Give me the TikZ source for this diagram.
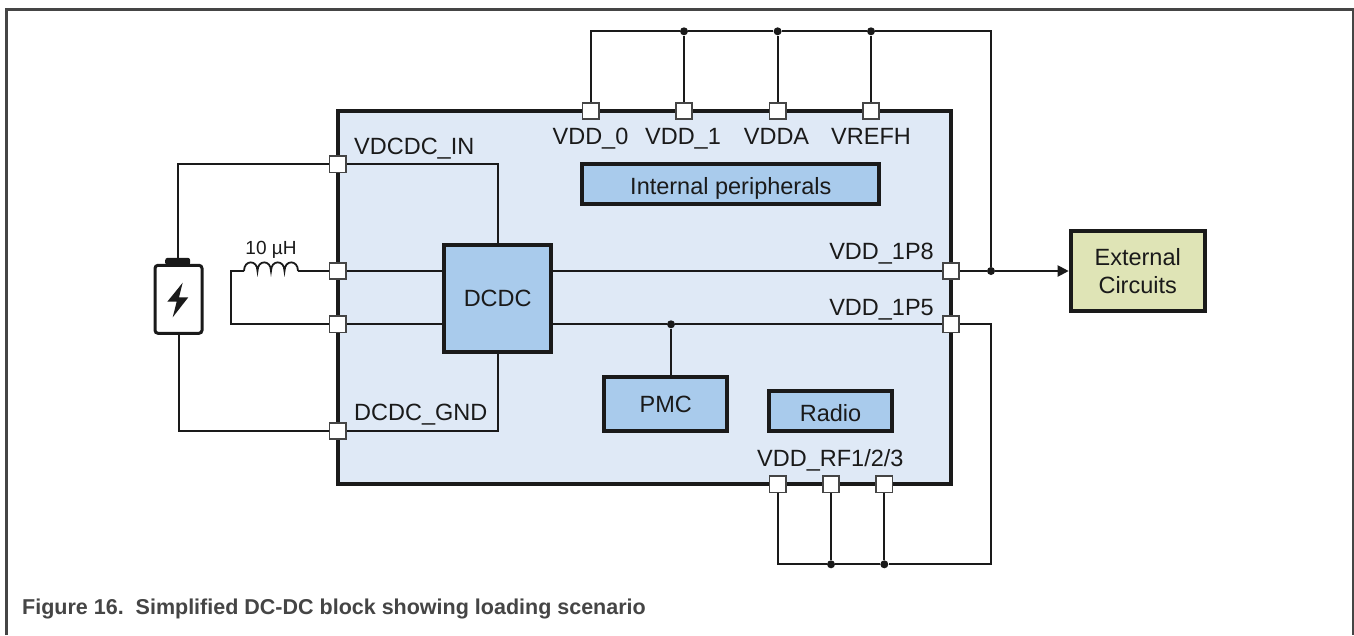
\documentclass[tikz,border=0pt]{standalone}
\usepackage{fontspec}
\setmainfont{Liberation Sans}
\usetikzlibrary{arrows.meta}
\definecolor{chipfill}{HTML}{DFE9F6}
\definecolor{blockfill}{HTML}{A9CBEC}
\definecolor{extfill}{HTML}{DFE4B6}
\definecolor{ink}{HTML}{1A1A1A}
\definecolor{framecol}{HTML}{454545}
\tikzset{
  chipbox/.style={draw=ink,fill=chipfill,line width=3.5pt,inner sep=0pt},
  block/.style={draw=ink,fill=blockfill,line width=4pt,inner sep=0pt,text=ink,font=\fontsize{23.5}{28}\selectfont,align=center},
  extblock/.style={block,fill=extfill},
  pinbox/.style={draw=framecol,fill=white,line width=1.6pt,minimum size=16.5pt,inner sep=0pt},
  wire/.style={draw=ink,line width=2pt},
  junc/.style={circle,fill=ink,minimum size=8pt,inner sep=0pt},
  lab/.style={text=ink,font=\fontsize{23.5}{28}\selectfont,inner sep=0pt},
}
\begin{document}
\begin{tikzpicture}[x=1pt,y=-1pt]
\useasboundingbox (0,0) rectangle (1354,635);
\fill[white] (0,0) rectangle (1354,635);
% frame
\draw[framecol,line width=3pt] (6.5,635) -- (6.5,9.5) -- (1353,9.5) -- (1353,635);
% chip and blocks
\node[chipbox,minimum width=613pt,minimum height=373pt] (chip) at (644.5,297.5) {};
\node[block,minimum width=107pt,minimum height=107pt] (dcdc) at (497.7,298) {DCDC};
\node[block,minimum width=297pt,minimum height=40pt,text height=20pt,text depth=0.4pt] (periph) at (730.8,184.2) {Internal peripherals};
\node[block,minimum width=123pt,minimum height=54pt] (pmc) at (665.7,404.3) {PMC};
\node[block,minimum width=123pt,minimum height=40pt,text height=21pt,text depth=0pt] (radio) at (830.5,411) {Radio};
\node[extblock,minimum width=134pt,minimum height=80pt] (ext) at (1137.7,271) {External\\Circuits};
% pins
\node[pinbox] (p0) at (590.7,111) {};
\node[pinbox] (p1) at (684,111) {};
\node[pinbox] (pa) at (777.6,111) {};
\node[pinbox] (pr) at (871,111) {};
\node[pinbox] (lA) at (337.7,164.3) {};
\node[pinbox] (lB) at (337.7,271) {};
\node[pinbox] (lC) at (337.7,324.3) {};
\node[pinbox] (lD) at (337.7,431) {};
\node[pinbox] (r8) at (951,271) {};
\node[pinbox] (r5) at (951,324.3) {};
\node[pinbox] (b1) at (777.7,484.3) {};
\node[pinbox] (b2) at (831,484.3) {};
\node[pinbox] (b3) at (884.3,484.3) {};
% junctions
\node[junc] (j1) at (684,31.3) {};
\node[junc] (j2) at (777.6,31.3) {};
\node[junc] (j3) at (871,31.3) {};
\node[junc] (j8) at (991,271) {};
\node[junc] (jp) at (671,324.3) {};
\node[junc] (jb2) at (831,564.3) {};
\node[junc] (jb3) at (884.3,564.3) {};
% battery
\node[draw=ink,line width=3pt,rounded corners=3pt,minimum width=47pt,minimum height=68pt,inner sep=0pt] (bat) at (178.5,299.3) {};
\node[fill=ink,rounded corners=2.5pt,minimum width=25pt,minimum height=7.5pt,inner sep=0pt] (cap) at (177.7,261.5) {};
\fill[ink] (182.7,282.7) -- (167.3,301.7) -- (176.7,301.7) -- (172.7,317.3) -- (188.3,297.3) -- (179,297.3) -- cycle;
% inductor
\coordinate (coilL) at (244,271);
\coordinate (coilR) at (298,271);
\coordinate (indC) at (230.7,271);
\draw[ink,line width=1.8pt] (244,271)
  .. controls (244,259.5) and (257.5,259.5) .. (257.5,271)
  .. controls (257.5,259.5) and (271,259.5) .. (271,271)
  .. controls (271,259.5) and (284.5,259.5) .. (284.5,271)
  .. controls (284.5,259.5) and (298,259.5) .. (298,271);
% wires
\path[wire] (p0) |- (j1) -- (j2) -- (j3) -| (j8);
\path[wire] (p1) -- (j1);
\path[wire] (pa) -- (j2);
\path[wire] (pr) -- (j3);
\path[wire] (lA) -| (cap);
\path[wire] (lD) -| (bat);
\path[wire] (lB) -- (coilR);
\path[wire] (coilL) -- (indC) |- (lC);
\path[wire] (lA) -| (dcdc);
\path[wire] (lD) -| (dcdc);
\path[wire] (lB) -- (lB -| dcdc.west);
\path[wire] (lC) -- (lC -| dcdc.west);
\path[wire] (r8 -| dcdc.east) -- (r8);
\path[wire] (r5 -| dcdc.east) -- (jp);
\path[wire] (jp) -- (r5);
\path[wire] (jp) -- (jp |- pmc.north);
\path[wire] (r8) -- (j8);
\path[wire,-{Triangle[length=11pt,width=11pt]}] (j8) -- (ext.west);
\path[wire] (r5) -| (jb3 -| j8) -- (jb3);
\path[wire] (jb3) -- (jb2);
\path[wire] (jb2) -- (jb2 -| b1) -- (b1);
\path[wire] (b2) -- (jb2);
\path[wire] (b3) -- (jb3);
% labels
\node[lab,anchor=base] (t0) at (590.5,144.2) {VDD\_0};
\node[lab,anchor=base] (t1) at (683,144.2) {VDD\_1};
\node[lab,anchor=base] (ta) at (776.5,144.2) {VDDA};
\node[lab,anchor=base] (tr) at (871,144.2) {VREFH};
\node[lab,anchor=base west] (tA) at (354,154) {VDCDC\_IN};
\node[lab,anchor=base west] (tD) at (354,420.7) {DCDC\_GND};
\node[lab,anchor=base east] (t8) at (934,259) {VDD\_1P8};
\node[lab,anchor=base east] (t5) at (934,315) {VDD\_1P5};
\node[lab,anchor=base west] (tb) at (757,466.4) {VDD\_RF1/2/3};
\node[text=ink,font=\fontsize{19}{22}\selectfont,inner sep=0pt,anchor=base] (tl) at (271,254.5) {10 µH};
\node[text=framecol,font=\fontsize{21.5}{26}\bfseries\selectfont,inner sep=0pt,anchor=base west] (cap1) at (22,614) {Figure 16.\ \ Simplified DC-DC block showing loading scenario};
\end{tikzpicture}
\end{document}
